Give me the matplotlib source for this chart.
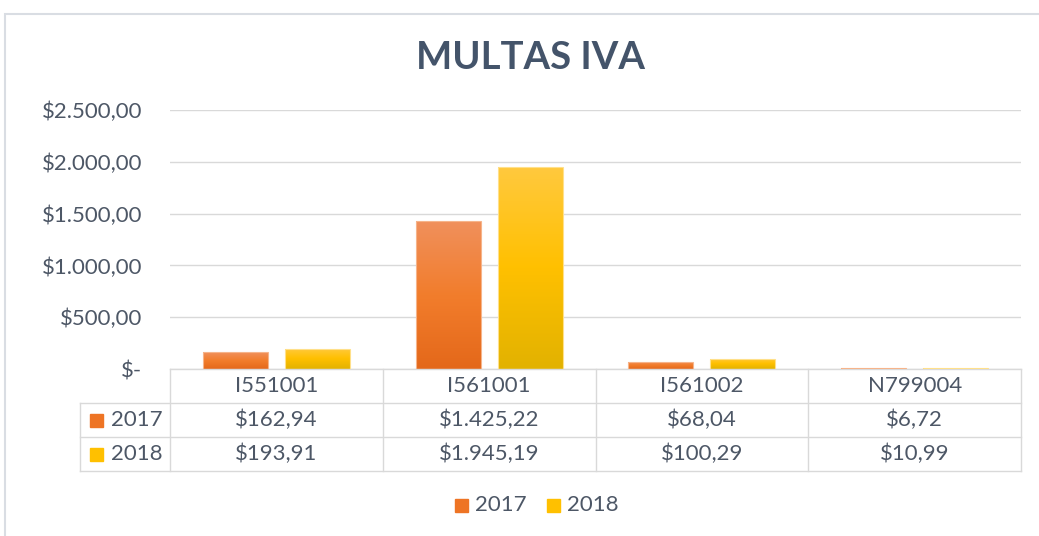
import matplotlib
matplotlib.use("Agg")
import matplotlib.pyplot as plt
import matplotlib.transforms as mtransforms
from matplotlib.colors import LinearSegmentedColormap
from matplotlib.patches import Rectangle
from matplotlib.lines import Line2D
import numpy as np

plt.rcParams['font.family'] = ['Lato', 'DejaVu Sans']

title = "MULTAS IVA"
categories = ["I551001", "I561001", "I561002", "N799004"]
series_names = ["2017", "2018"]
values_2017 = [162.94, 1425.22, 68.04, 6.72]
values_2018 = [193.91, 1945.19, 100.29, 10.99]
yticks = [0, 500, 1000, 1500, 2000, 2500]

TEXT = "#4d5766"
TITLE_C = "#44546A"
GRID = "#d9d9d9"
grad_2017 = ["#f0905c", "#f27d2c", "#e4681a"]
grad_2018 = ["#ffc93e", "#ffc000", "#e2b200"]
key_2017 = "#ee7424"
key_2018 = "#ffc000"
FS = 16


def money(v):
    if v == 0:
        return "$-"
    s = f"{v:,.2f}"
    s = s.replace(",", "X").replace(".", ",").replace("X", ".")
    return "$" + s


W, H = 1039, 536
fig = plt.figure(figsize=(W / 100, H / 100), dpi=100)
fig.patch.set_facecolor("white")

def fx(px):
    return px / W

def fy(py):
    return 1 - py / H

# outer frame
fig.add_artist(Rectangle((fx(5), fy(545)), fx(1045) - fx(5), fy(14) - fy(545),
                         transform=fig.transFigure, fill=False,
                         edgecolor="#d9dde3", linewidth=1.5))

left, right, top, bottom = 170, 1021, 110, 369
ax = fig.add_axes([fx(left), fy(bottom), fx(right) - fx(left), fy(top) - fy(bottom)])
ax.set_xlim(-0.5, len(categories) - 0.5)
ax.set_ylim(0, 2500)
for sp in ax.spines.values():
    sp.set_visible(False)
ax.set_yticks(yticks)
ax.set_yticklabels([money(v) for v in yticks], fontsize=FS, color=TEXT)
ax.tick_params(axis="y", length=0, pad=20)
ax.set_xticks([])
ax.grid(axis="y", color=GRID, linewidth=1)
ax.set_axisbelow(True)

x = np.arange(len(categories))
bw = 0.305
off = 0.193
cm17 = LinearSegmentedColormap.from_list("c17", grad_2017)
cm18 = LinearSegmentedColormap.from_list("c18", grad_2018)
grad = np.linspace(0, 1, 256).reshape(-1, 1)
for vals, sign, cm, edge in [(values_2017, -1, cm17, "#f6b48a"), (values_2018, 1, cm18, "#ffe08a")]:
    bars = ax.bar(x + sign * off, vals, width=bw, color="none", edgecolor=edge, linewidth=0.8, zorder=3)
    for b in bars:
        x0 = b.get_x()
        x1 = x0 + b.get_width()
        h = b.get_height()
        im = ax.imshow(grad, cmap=cm, extent=[x0, x1, 0, h], origin="upper",
                       aspect="auto", zorder=2)
        im.set_clip_path(b)
ax.set_xlim(-0.5, len(categories) - 0.5)
ax.set_ylim(0, 2500)

# data table
tr = mtransforms.blended_transform_factory(ax.transData, ax.transAxes)
row_h = 34 / (bottom - top)
label_left = -0.5 - 90 / ((right - left) / len(categories))
lc = dict(color=GRID, linewidth=1, clip_on=False, transform=tr)
ax.add_line(Line2D([-0.5, len(categories) - 0.5], [0, 0], **lc))
for r in range(1, 4):
    ax.add_line(Line2D([label_left, len(categories) - 0.5], [-r * row_h, -r * row_h], **lc))
for i in range(len(categories) + 1):
    ax.add_line(Line2D([i - 0.5, i - 0.5], [0, -3 * row_h], **lc))
ax.add_line(Line2D([label_left, label_left], [-row_h, -3 * row_h], **lc))

for i, c in enumerate(categories):
    ax.text(i, -0.5 * row_h, c, transform=tr, ha="center", va="center", fontsize=FS, color=TEXT)
    ax.text(i, -1.5 * row_h, money(values_2017[i]), transform=tr, ha="center", va="center", fontsize=FS, color=TEXT)
    ax.text(i, -2.5 * row_h, money(values_2018[i]), transform=tr, ha="center", va="center", fontsize=FS, color=TEXT)

unit_px = (right - left) / len(categories)
for r, (name, kc) in enumerate([(series_names[0], key_2017), (series_names[1], key_2018)]):
    yc = -(r + 1.5) * row_h
    kx = label_left + 10 / unit_px
    ks = 13 / unit_px
    khh = 13 / (bottom - top)
    ax.add_patch(Rectangle((kx, yc - khh / 2), ks, khh, transform=tr, color=kc, clip_on=False))
    ax.text(label_left + 31 / unit_px, yc, name, transform=tr, ha="left", va="center", fontsize=FS, color=TEXT)

# title
fig.text(fx(531), fy(58), title, ha="center", va="center", fontsize=27.5, fontweight="bold", color=TITLE_C)

# legend
ly = fy(505)
for kxp, txp, name, kc in [(455, 475, series_names[0], key_2017), (547, 567, series_names[1], key_2018)]:
    fig.add_artist(Rectangle((fx(kxp), ly - 6.5 / H), 13 / W, 13 / H, transform=fig.transFigure, color=kc))
    fig.text(fx(txp), ly, name, ha="left", va="center", fontsize=FS, color=TEXT)

fig.savefig("out.png", dpi=100)
